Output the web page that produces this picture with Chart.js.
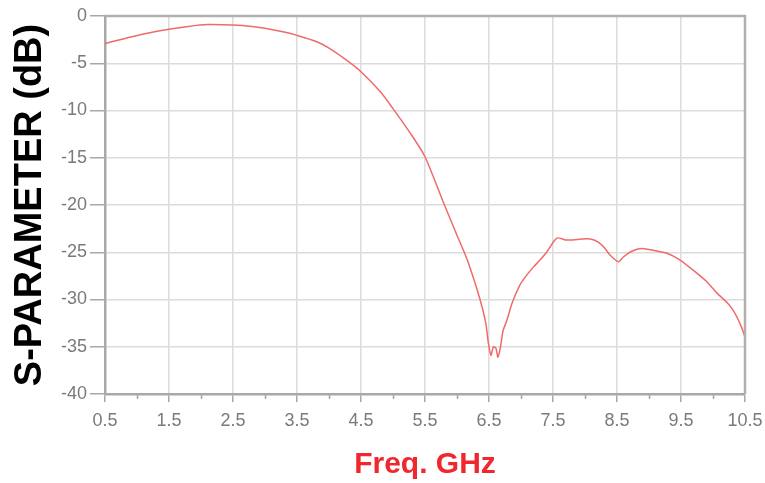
<!DOCTYPE html>
<html>
<head>
<meta charset="utf-8">
<script src="https://cdn.jsdelivr.net/npm/chart.js@4/dist/chart.umd.min.js"></script>
<style>
html,body{margin:0;padding:0;background:#fff;}
#wrap{width:765px;height:483px;position:relative;}
</style>
</head>
<body>
<div id="wrap"><canvas id="c" width="765" height="483"></canvas></div>
<script>
const freqGHz = [0.5,0.8,1.1,1.5,1.8,2.1,2.5,2.8,3.0,3.3,3.5,3.8,4.0,4.3,4.5,4.8,5.0,5.3,5.5,5.78,6.0,6.16,6.36,6.45,6.49,6.53,6.57,6.61,6.64,6.68,6.72,6.78,6.86,6.98,7.08,7.19,7.3,7.4,7.56,7.7,7.81,7.95,8.08,8.2,8.3,8.39,8.52,8.6,8.7,8.8,8.9,9.06,9.28,9.48,9.69,9.9,10.06,10.23,10.3,10.37,10.45,10.5];
const sParamDb = [-2.9,-2.4,-1.9,-1.4,-1.1,-0.9,-0.95,-1.1,-1.3,-1.7,-2.05,-2.7,-3.4,-4.8,-5.9,-8.0,-9.8,-12.7,-14.9,-19.6,-23.2,-25.8,-30.0,-32.5,-34.6,-35.9,-35.0,-35.2,-36.1,-35.0,-33.3,-32.2,-30.4,-28.5,-27.5,-26.6,-25.8,-25.0,-23.5,-23.7,-23.7,-23.6,-23.6,-23.9,-24.5,-25.3,-26.0,-25.5,-25.0,-24.7,-24.6,-24.8,-25.1,-25.8,-26.9,-28.1,-29.3,-30.4,-31.0,-31.8,-33.0,-34.0];
const xTickValues = [0.5,1.5,2.5,3.5,4.5,5.5,6.5,7.5,8.5,9.5,10.5];
const xMinorTicks = [1,2,3,4,5,6,7,8,9,10];
const yTickValues = [0,-5,-10,-15,-20,-25,-30,-35,-40];

const pts = freqGHz.map((f,i)=>({x:f,y:sParamDb[i]}));

const frameAndMinor = {
  id:'frameAndMinor',
  afterDraw(chart){
    const ctx = chart.ctx, a = chart.chartArea;
    const xs = chart.scales.x;
    ctx.save();
    ctx.strokeStyle = '#a8a8a8';
    ctx.lineWidth = 1.5;
    xMinorTicks.forEach(v=>{
      const px = Math.round(xs.getPixelForValue(v))+0.5;
      ctx.beginPath(); ctx.moveTo(px,a.bottom); ctx.lineTo(px,a.bottom+5); ctx.stroke();
    });
    ctx.strokeStyle = '#b0b0b0';
    ctx.lineWidth = 2.5;
    ctx.beginPath();
    ctx.moveTo(a.left,a.top); ctx.lineTo(a.right,a.top); ctx.lineTo(a.right,a.bottom);
    ctx.stroke();
    ctx.restore();
  }
};

new Chart(document.getElementById('c'),{
  type:'line',
  data:{datasets:[{data:pts,borderColor:'#f06a6a',borderWidth:1.5,pointRadius:0,tension:0.25,fill:false}]},
  options:{
    responsive:false,animation:false,
    layout:{padding:{top:16,right:20,bottom:0,left:0}},
    plugins:{legend:{display:false},tooltip:{enabled:false}},
    scales:{
      x:{type:'linear',min:0.5,max:10.5,
        afterBuildTicks(s){s.ticks = xTickValues.map(v=>({value:v}));},
        afterFit(s){s.height = 89; s.paddingLeft = 0; s.paddingRight = 0;},
        border:{color:'#a8a8a8',width:2.5},
        grid:{color:'#dcdcdc',lineWidth:1.5,tickLength:8,tickColor:'#a8a8a8'},
        ticks:{color:'#7a7a7a',font:{family:'Liberation Sans, Arial',size:18},padding:8,maxRotation:0,
          callback:(v)=>String(v)},
        title:{display:true,text:'Freq. GHz',color:'#f0282e',font:{family:'Liberation Sans, Arial',size:30,weight:'bold'},padding:{top:0,bottom:0}}
      },
      y:{type:'linear',min:-40,max:0,
        afterBuildTicks(s){s.ticks = yTickValues.map(v=>({value:v}));},
        afterFit(s){s.width = 105; s.paddingTop = 0; s.paddingBottom = 0;},
        border:{color:'#a8a8a8',width:2.5},
        grid:{color:'#dcdcdc',lineWidth:1.5,tickLength:15,tickColor:'#a8a8a8'},
        ticks:{color:'#7a7a7a',font:{family:'Liberation Sans, Arial',size:18},padding:3,
          callback:(v)=>String(v)},
        title:{display:true,text:'S-PARAMETER (dB)',color:'#000',font:{family:'Liberation Sans, Arial',size:38,weight:'bold'},padding:{top:8,bottom:0}}
      }
    }
  },
  plugins:[frameAndMinor]
});
</script>
</body>
</html>
